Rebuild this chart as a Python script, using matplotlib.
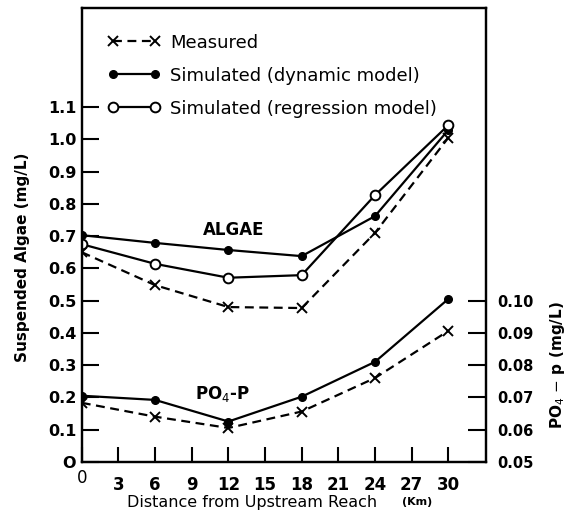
import matplotlib
matplotlib.use("Agg")
import matplotlib.pyplot as plt
from matplotlib.lines import Line2D
from matplotlib.transforms import ScaledTranslation

plt.rcParams['font.family'] = ['DejaVu Sans']

distance_km = [0, 6, 12, 18, 24, 30]
algae_measured = [0.65, 0.548, 0.48, 0.477, 0.71, 1.005]
algae_dynamic = [0.703, 0.679, 0.657, 0.638, 0.762, 1.029]
algae_regression = [0.675, 0.614, 0.571, 0.579, 0.827, 1.044]
po4_measured = [0.0683, 0.0640, 0.0605, 0.0656, 0.0760, 0.0906]
po4_dynamic = [0.0705, 0.0692, 0.0625, 0.0702, 0.0810, 0.1005]

x_ticks = [0, 3, 6, 9, 12, 15, 18, 21, 24, 27, 30]
left_ticks = [0, 0.1, 0.2, 0.3, 0.4, 0.5, 0.6, 0.7, 0.8, 0.9, 1.0, 1.1]
left_labels = ['O', '0.1', '0.2', '0.3', '0.4', '0.5', '0.6', '0.7', '0.8', '0.9', '1.0', '1.1']
right_ticks = [0.05, 0.06, 0.07, 0.08, 0.09, 0.10]
right_labels = ['0.05', '0.06', '0.07', '0.08', '0.09', '0.10']

fig = plt.figure(figsize=(5.76, 5.12), dpi=100)
ax = fig.add_axes([0.142, 0.098, 0.702, 0.886])
ax2 = ax.twinx()

ymax = 1.407
ax.set_xlim(0, 33.1)
ax.set_ylim(0, ymax)
ax2.set_ylim(0.05, 0.05 + ymax * 0.1)

lw = 1.6
dash = (4, 2.5)
ax.plot(distance_km, algae_measured, color='black', lw=lw, dashes=dash,
        marker='x', ms=7, mew=1.4)
ax.plot(distance_km, algae_dynamic, color='black', lw=lw,
        marker='o', ms=5.5, mfc='black')
ax.plot(distance_km, algae_regression, color='black', lw=lw,
        marker='o', ms=7, mfc='white', mew=1.4)
ax2.plot(distance_km, po4_measured, color='black', lw=lw, dashes=dash,
         marker='x', ms=7, mew=1.4)
ax2.plot(distance_km, po4_dynamic, color='black', lw=lw,
         marker='o', ms=5.5, mfc='black')

for a in (ax, ax2):
    for s in a.spines.values():
        s.set_linewidth(1.6)

ax.set_xticks(x_ticks)
ax.set_xticklabels([str(v) for v in x_ticks], fontsize=12, fontweight='bold')
ax.set_yticks(left_ticks)
ax.set_yticklabels(left_labels, fontsize=11.5, fontweight='bold')
ax.tick_params(axis='x', direction='in', length=11, width=1.5, pad=10, top=False)
ax.tick_params(axis='y', direction='in', length=12, width=1.5, pad=4, right=False)

# the "0" label at the origin sits a bit higher in the reference
lbl0 = ax.xaxis.get_major_ticks()[0].label1
lbl0.set_fontweight('normal')
lbl0.set_transform(lbl0.get_transform() + ScaledTranslation(0, 5 / 72, fig.dpi_scale_trans))

ax2.set_yticks(right_ticks)
ax2.set_yticklabels(right_labels, fontsize=10.5, fontweight='bold')
ax2.tick_params(axis='y', direction='in', length=13, width=1.5, pad=8)

ax.set_ylabel('Suspended Algae (mg/L)', fontsize=11, fontweight='bold')
ax2.set_ylabel('PO$_4$ $-$ p (mg/L)', fontsize=11, fontweight='bold')
ax.yaxis.set_label_coords(-0.128, 0.45)
ax2.yaxis.set_label_coords(1.153, 0.214)

fig.text(252 / 576, 1 - 506.5 / 512, 'Distance from Upstream Reach', fontsize=11.5,
         ha='center', va='baseline')
fig.text(402 / 576, 1 - 505 / 512, '(Km)', fontsize=8, fontweight='bold',
         ha='left', va='baseline')

ax.text(12.4, 0.72, 'ALGAE', fontsize=12, fontweight='bold', ha='center', va='center')
ax.text(11.5, 0.21, 'PO$_4$-P', fontsize=12, fontweight='bold', ha='center', va='center')

handles = [
    Line2D([], [], color='black', lw=lw, dashes=dash, marker='x', ms=7, mew=1.4),
    Line2D([], [], color='black', lw=lw, marker='o', ms=5.5, mfc='black'),
    Line2D([], [], color='black', lw=lw, marker='o', ms=7, mfc='white', mew=1.4),
]
labels = ['Measured', 'Simulated (dynamic model)', 'Simulated (regression model)']
ax.legend(handles, labels, loc='upper left', bbox_to_anchor=(0.065, 0.944),
          frameon=False, fontsize=13, numpoints=2, handlelength=2.9,
          handletextpad=0.55, labelspacing=0.83, borderpad=0, borderaxespad=0)

fig.savefig('out.png', dpi=100)
